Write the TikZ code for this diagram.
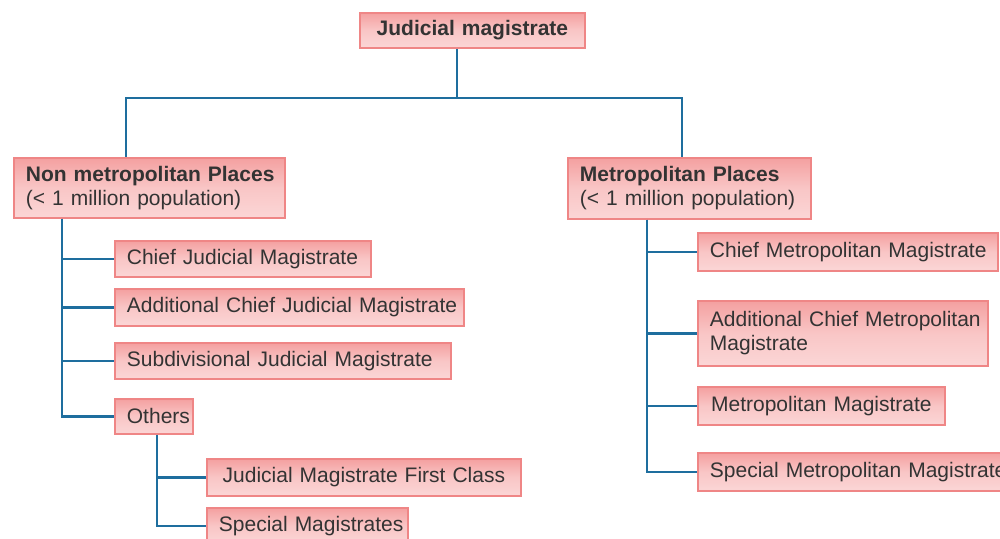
\documentclass[tikz,border=0pt]{standalone}
\usepackage{fontspec}
\setmainfont{Liberation Sans}
\definecolor{boxtop}{HTML}{F4A0A0}
\definecolor{boxbot}{HTML}{FBD6D6}
\definecolor{boxline}{HTML}{EF8686}
\definecolor{conncol}{HTML}{1E6E9E}
\definecolor{txt}{HTML}{333333}
\newcommand{\ind}{\hspace*{12pt}}
\tikzset{
  box/.style={draw=boxline, line width=1.8pt, top color=boxtop, bottom color=boxbot,
    middle color=boxbot!70!boxtop, anchor=north west, align=left, inner xsep=0pt, inner ysep=0pt,
    text=txt, font=\fontsize{21}{24}\selectfont},
  conn/.style={draw=conncol, line width=2.5pt}
}
\begin{document}
\begin{tikzpicture}[x=1pt,y=-1pt]
\clip (0,0) rectangle (1000,538);
\fill[white] (0,0) rectangle (1000,538);
% nodes
\node[box, font=\fontsize{21}{24}\selectfont\bfseries, align=center, text width=225pt, minimum height=35pt] (top) at (359,12) {Judicial magistrate};
\node[box, text width=271pt, minimum height=60pt] (non) at (13,157) {\ind\textbf{Non metropolitan Places}\\\ind(< 1 million population)};
\node[box, text width=243pt, minimum height=61pt] (met) at (567,157) {\ind\textbf{Metropolitan Places}\\\ind(< 1 million population)};
\node[box, text width=256pt, minimum height=36pt] (cjm) at (114,240) {\ind Chief Judicial Magistrate};
\node[box, text width=349pt, minimum height=37pt] (acjm) at (114,288) {\ind Additional Chief Judicial Magistrate};
\node[box, text width=336pt, minimum height=36pt] (sjm) at (114,342) {\ind Subdivisional Judicial Magistrate};
\node[box, text width=78pt, minimum height=35pt] (oth) at (114,398) {\ind Others};
\node[box, text width=314pt, minimum height=37pt, align=center] (jmfc) at (206,458) {Judicial Magistrate First Class};
\node[box, text width=201pt, minimum height=36pt] (spm) at (206,507) {\ind Special Magistrates};
\node[box, text width=300pt, minimum height=38pt] (cmm) at (697,232) {\ind Chief Metropolitan Magistrate};
\node[box, text width=290pt, minimum height=65pt] (acmm) at (697,300) {\ind Additional Chief Metropolitan\\\ind Magistrate};
\node[box, text width=247pt, minimum height=38pt, align=center] (mm) at (697,386) {Metropolitan Magistrate};
\node[box, text width=320pt, minimum height=38pt] (smm) at (697,452) {\ind Special Metropolitan Magistrate};
% connectors
\coordinate (j) at (457,98);
\draw[conn] (top.south -| j) -- (j);
\draw[conn] (j) -| ([xshift=-23.5pt]non.north);
\draw[conn] (j) -| ([xshift=-7.5pt]met.north);
\draw[conn] ([xshift=49pt]non.south west) |- (cjm.west);
\draw[conn] ([xshift=49pt]non.south west) |- (acjm.west);
\draw[conn] ([xshift=49pt]non.south west) |- (sjm.west);
\draw[conn] ([xshift=49pt]non.south west) |- (oth.west);
\draw[conn] ([xshift=3pt]oth.south) |- (jmfc.west);
\draw[conn] ([xshift=3pt]oth.south) |- (spm.west);
\draw[conn] ([xshift=80pt]met.south west) |- (cmm.west);
\draw[conn] ([xshift=80pt]met.south west) |- (acmm.west);
\draw[conn] ([xshift=80pt]met.south west) |- (mm.west);
\draw[conn] ([xshift=80pt]met.south west) |- (smm.west);
\end{tikzpicture}
\end{document}
